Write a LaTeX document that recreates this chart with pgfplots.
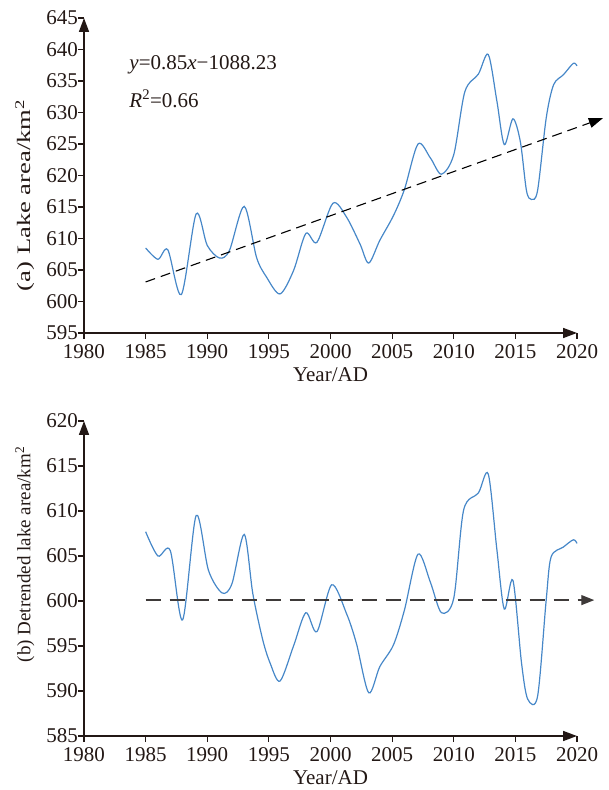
\documentclass[border=0pt]{standalone}
\usepackage{fontspec}
\setmainfont{Liberation Serif}
\usepackage{graphicx}
\usepackage{pgfplots}
\pgfplotsset{compat=1.18}
\usetikzlibrary{arrows.meta}

\definecolor{ink}{RGB}{35,24,21}
\definecolor{curve}{RGB}{70,135,200}
\definecolor{dashc}{RGB}{62,58,57}

\pgfplotstableread{
year area
1985.0 608.5
1986.0 606.7
1986.8 608.2
1987.9 601.1
1989.1 613.9
1990.0 608.9
1991.0 606.9
1991.8 608.1
1993.0 615.1
1994.0 607.0
1994.8 603.9
1995.9 601.2
1997.0 604.9
1998.0 610.8
1998.9 609.4
2000.2 615.6
2001.3 613.4
2002.4 609.1
2003.1 606.1
2004.0 609.7
2005.1 613.6
2006.0 617.8
2007.1 625.0
2008.1 622.8
2009.0 620.2
2010.0 623.3
2010.9 633.3
2012.0 636.1
2012.8 639.2
2013.5 631.8
2014.1 624.9
2014.8 629.0
2015.4 625.4
2015.9 617.6
2016.3 616.2
2016.8 617.6
2017.5 629.1
2018.1 634.4
2018.9 636.0
2019.7 637.8
2020.0 637.4
}\lakearea

\pgfplotstableread{
year area
1985.0 607.7
1986.0 605.0
1987.0 605.6
1988.0 597.9
1989.1 609.5
1990.1 603.4
1991.2 600.9
1992.0 601.9
1993.0 607.4
1993.7 600.8
1994.5 595.7
1995.1 593.1
1995.9 591.1
1997.0 595.0
1998.0 598.7
1998.9 596.6
2000.1 601.8
2001.3 598.6
2002.1 595.3
2003.1 589.8
2004.0 592.7
2005.1 595.1
2006.0 599.0
2007.1 605.2
2008.1 602.1
2009.0 598.7
2010.0 600.3
2010.8 610.1
2012.0 612.0
2012.8 614.1
2013.5 605.7
2014.1 599.1
2014.8 602.3
2015.5 593.1
2016.0 589.1
2016.8 589.4
2017.5 600.1
2017.9 604.9
2018.9 606.0
2019.7 606.8
2020.0 606.4
}\detrended

\pgfplotsset{
  lakeaxis/.style={
    scale only axis, width=493pt, height=315pt,
    xmin=1980, xmax=2020, xtick={1980,1985,...,2020},
    axis x line=bottom, axis y line=left,
    axis line style={ink, line width=1.6pt, -{Triangle[length=14pt,width=10pt]}},
    tick style={ink, line width=1.2pt}, tick align=outside, major tick length=6pt,
    /pgf/number format/1000 sep={},
    /pgf/number format/assume math mode=true,
    ticklabel style={font=\fontsize{21}{25}\selectfont, text=ink, inner sep=1pt},
    xticklabel style={yshift=-4pt},
    yticklabel style={xshift=1pt},
    label style={font=\fontsize{19}{23}\selectfont, text=ink},
    xlabel={Year/AD},
    xlabel style={font=\fontsize{21}{25}\selectfont, at={(axis description cs:0.5,-0.133)}, anchor=center},
    clip=false,
  }
}

\begin{document}
\begin{tikzpicture}
\path[use as bounding box] (-84pt,-54pt) rectangle (525pt,736pt);

% (a) lake area with linear trend
\begin{axis}[lakeaxis, at={(0pt,403pt)}, anchor=south west,
    ymin=595, ymax=645, ytick={595,600,...,645},
    ylabel style={at={(axis description cs:-0.12,0.437)}, anchor=center},
    ylabel={\scalebox{1.4}[1]{(a) Lake area/km\textsuperscript{2}}}]
\addplot[curve, line width=1.2pt, smooth, tension=0.5] table[x=year, y=area] {\lakearea};
\addplot[black, line width=1.1pt, dash pattern=on 10pt off 6pt,
    -{Triangle[length=14pt,width=10pt]}] coordinates {(1985,603.1) (2022.1,629.1)};
\node[anchor=west, text=ink, font=\fontsize{21}{25}\selectfont]
    at (axis cs:1983.4,637.6) {\textit{y}=0.85\textit{x}−1088.23};
\node[anchor=west, text=ink, font=\fontsize{21}{25}\selectfont]
    at (axis cs:1983.4,632.2) {\textit{R}\textsuperscript{2}=0.66};
\end{axis}

% (b) detrended lake area
\begin{axis}[lakeaxis, at={(0pt,0pt)}, anchor=south west,
    ymin=585, ymax=620, ytick={585,590,...,620},
    ylabel style={at={(axis description cs:-0.12,0.576)}, anchor=center},
    ylabel={(b) Detrended lake area/km\textsuperscript{2}}]
\addplot[curve, line width=1.2pt, smooth, tension=0.5] table[x=year, y=area] {\detrended};
\addplot[dashc, line width=1.4pt, dash pattern=on 15pt off 9pt,
    -{Triangle[length=13pt,width=10pt]}] coordinates {(1985,600.1) (2021.4,600.1)};
\end{axis}
\end{tikzpicture}
\end{document}
